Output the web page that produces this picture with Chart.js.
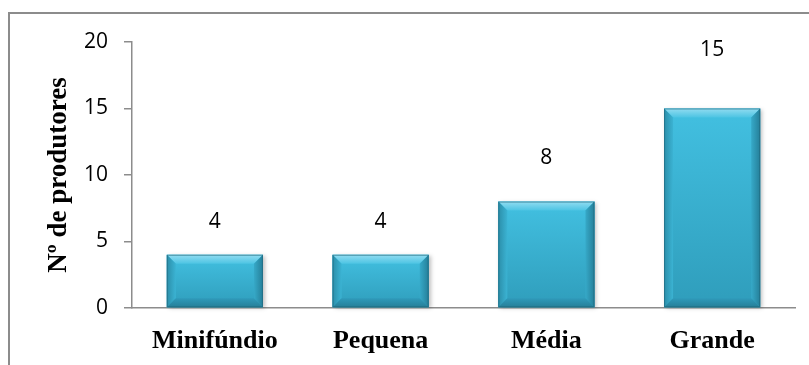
<!DOCTYPE html>
<html>
<head>
<meta charset="utf-8">
<script src="https://cdn.jsdelivr.net/npm/chart.js@4/dist/chart.umd.min.js"></script>
<style>
  html, body { margin: 0; padding: 0; background: #fff; overflow: hidden; }
  #frame {
    position: absolute; left: 8px; top: 12px; width: 900px; height: 400px;
    border-left: 2px solid #8c8c8c; border-top: 2px solid #8c8c8c;
  }
  #wrap { position: absolute; left: 0; top: 0; width: 809px; height: 365px; }
</style>
</head>
<body>
<div id="frame"></div>
<div id="wrap"><canvas id="chart" width="809" height="365"></canvas></div>
<script>
const categories = ["Minifúndio", "Pequena", "Média", "Grande"];
const produtores = [4, 4, 8, 15];
const yTicks = [0, 5, 10, 15, 20];
// how far above the bar top each value label sits
const labelLift = [33, 33, 44, 58];

const tickFont = { family: "'Open Sans', sans-serif", size: 21 };
const serifBold = { family: "'Liberation Serif', 'Times New Roman', serif", size: 26, weight: "bold" };
const titleFont = { family: "'Liberation Serif', 'Times New Roman', serif", size: 27, weight: "bold" };

// bevelled cyan look for each bar
const bevelBars = {
  id: "bevelBars",
  afterDatasetsDraw(chart) {
    const ctx = chart.ctx;
    const meta = chart.getDatasetMeta(0);
    meta.data.forEach((bar) => {
      const { x, y, base, width } = bar.getProps(["x", "y", "base", "width"], true);
      const l = x - width / 2, r = x + width / 2, t = y, b = base;
      const bv = 9;
      ctx.save();
      // soft shadow
      ctx.shadowColor = "rgba(0,0,0,0.25)";
      ctx.shadowBlur = 4;
      ctx.shadowOffsetX = 2;
      ctx.shadowOffsetY = 1;
      const g = ctx.createLinearGradient(0, t, 0, b);
      g.addColorStop(0, "#42c0e1");
      g.addColorStop(1, "#2f9dbb");
      ctx.fillStyle = g;
      ctx.fillRect(l, t, width, b - t);
      ctx.shadowColor = "transparent";

      // top bevel
      const gt = ctx.createLinearGradient(0, t, 0, t + bv);
      gt.addColorStop(0, "#92dcf1");
      gt.addColorStop(1, "#4cc4e3");
      ctx.fillStyle = gt;
      ctx.beginPath();
      ctx.moveTo(l, t); ctx.lineTo(r, t); ctx.lineTo(r - bv, t + bv); ctx.lineTo(l + bv, t + bv);
      ctx.closePath(); ctx.fill();

      // left bevel
      const gl = ctx.createLinearGradient(l, 0, l + bv, 0);
      gl.addColorStop(0, "#2b8ea9");
      gl.addColorStop(1, "#3bb3d3");
      ctx.fillStyle = gl;
      ctx.beginPath();
      ctx.moveTo(l, t); ctx.lineTo(l + bv, t + bv); ctx.lineTo(l + bv, b - bv); ctx.lineTo(l, b);
      ctx.closePath(); ctx.fill();

      // right bevel
      const gr = ctx.createLinearGradient(r - bv, 0, r, 0);
      gr.addColorStop(0, "#36a9c8");
      gr.addColorStop(1, "#257f99");
      ctx.fillStyle = gr;
      ctx.beginPath();
      ctx.moveTo(r, t); ctx.lineTo(r - bv, t + bv); ctx.lineTo(r - bv, b - bv); ctx.lineTo(r, b);
      ctx.closePath(); ctx.fill();

      // bottom bevel
      const gb = ctx.createLinearGradient(0, b - bv, 0, b);
      gb.addColorStop(0, "#2f9aba");
      gb.addColorStop(1, "#267f98");
      ctx.fillStyle = gb;
      ctx.beginPath();
      ctx.moveTo(l, b); ctx.lineTo(l + bv, b - bv); ctx.lineTo(r - bv, b - bv); ctx.lineTo(r, b);
      ctx.closePath(); ctx.fill();

      ctx.strokeStyle = "rgba(30,100,120,0.6)";
      ctx.lineWidth = 1;
      ctx.strokeRect(l + 0.5, t + 0.5, width - 1, b - t - 1);
      ctx.restore();
    });
  }
};

// value labels above the bars
const valueLabels = {
  id: "valueLabels",
  afterDatasetsDraw(chart) {
    const ctx = chart.ctx;
    const meta = chart.getDatasetMeta(0);
    ctx.save();
    ctx.font = "21px 'Open Sans', sans-serif";
    ctx.fillStyle = "#000";
    ctx.textAlign = "center";
    ctx.textBaseline = "middle";
    meta.data.forEach((bar, i) => {
      ctx.fillText(String(produtores[i]), bar.x, bar.y - labelLift[i]);
    });
    ctx.restore();
  }
};

new Chart(document.getElementById("chart"), {
  type: "bar",
  data: {
    labels: categories,
    datasets: [{
      data: produtores,
      backgroundColor: "#3db6d8",
      borderWidth: 0,
      barPercentage: 0.58,
      categoryPercentage: 1
    }]
  },
  options: {
    responsive: false,
    animation: false,
    layout: { padding: { left: 0, top: 42, right: 14, bottom: 0 } },
    plugins: { legend: { display: false }, tooltip: { enabled: false } },
    scales: {
      x: {
        grid: { drawOnChartArea: false, drawTicks: false },
        border: { display: true, color: "#8c8c8c", width: 1.5 },
        ticks: { color: "#000", font: serifBold, padding: 18, maxRotation: 0 },
        afterFit(scale) { scale.height = 57; }
      },
      y: {
        min: 0,
        max: 20,
        afterBuildTicks(scale) { scale.ticks = yTicks.map((v) => ({ value: v })); },
        grid: { drawOnChartArea: false, drawTicks: true, tickLength: 8, color: "#8c8c8c", lineWidth: 1.5 },
        border: { display: true, color: "#8c8c8c", width: 1.5 },
        ticks: { color: "#000", font: tickFont, padding: 16 },
        title: {
          display: true,
          text: "Nº de produtores",
          color: "#000",
          font: titleFont,
          padding: { top: 43, bottom: 0 }
        },
        afterFit(scale) { scale.width = 132; }
      }
    }
  },
  plugins: [bevelBars, valueLabels]
});
</script>
</body>
</html>
